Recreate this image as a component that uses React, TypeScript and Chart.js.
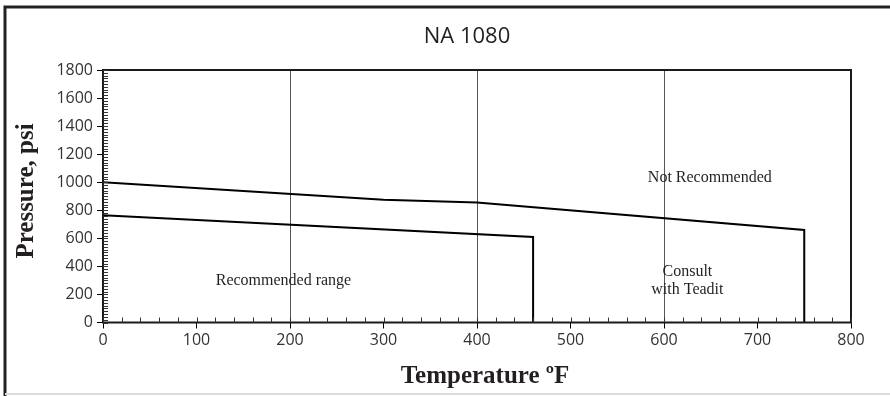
import { useEffect, useRef } from "react";
import { Chart, registerables } from "chart.js";
Chart.register(...registerables);

const chartTitle = "NA 1080";
const xTitle = "Temperature ºF";
const yTitle = "Pressure, psi";

const upperTemp = [0, 300, 400, 750, 750];
const upperPress = [1000, 875, 855, 660, 0];
const lowerTemp = [0, 460, 460];
const lowerPress = [765, 610, 0];

const gridTemps = [200, 400, 600];
const labelTexts = ["Recommended range", "Not Recommended", "Consult", "with Teadit"];
const labelTemps = [193, 649, 625, 625];
const labelPress = [300, 1032, 361, 232];

const X_MIN = 0, X_MAX = 800, X_STEP = 100, X_MINOR = 20;
const Y_MIN = 0, Y_MAX = 1800, Y_STEP = 200, Y_MINOR = 20;

const decorPlugin = {
  id: "decor",
  beforeDraw(chart: any) {
    const ctx = chart.ctx;
    ctx.save();
    ctx.fillStyle = "#fff";
    ctx.fillRect(0, 0, chart.width, chart.height);
    ctx.restore();
  },
  afterDraw(chart: any) {
    const ctx = chart.ctx;
    const a = chart.chartArea;
    const xs = chart.scales.x;
    const ys = chart.scales.y;
    ctx.save();
    // outer frame
    ctx.strokeStyle = "#222";
    ctx.lineWidth = 3;
    ctx.beginPath();
    ctx.moveTo(5, chart.height + 2);
    ctx.lineTo(5, 7);
    ctx.lineTo(chart.width + 2, 7);
    ctx.stroke();
    ctx.strokeStyle = "#ddd";
    ctx.lineWidth = 2;
    ctx.beginPath();
    ctx.moveTo(5, chart.height - 2);
    ctx.lineTo(chart.width, chart.height - 2);
    ctx.stroke();
    // plot frame
    ctx.strokeStyle = "#1a1a1a";
    ctx.lineWidth = 2;
    ctx.strokeRect(a.left, a.top, a.right - a.left, a.bottom - a.top);
    // minor ticks
    ctx.strokeStyle = "#333";
    ctx.lineWidth = 1;
    ctx.beginPath();
    for (let v = Y_MIN; v <= Y_MAX; v += Y_MINOR) {
      const y = Math.round(ys.getPixelForValue(v)) + 0.5;
      ctx.moveTo(a.left, y);
      ctx.lineTo(a.left + 5, y);
    }
    for (let v = X_MIN; v <= X_MAX; v += X_MINOR) {
      const x = Math.round(xs.getPixelForValue(v)) + 0.5;
      ctx.moveTo(x, a.bottom);
      ctx.lineTo(x, a.bottom - 5);
    }
    ctx.stroke();
    // title
    ctx.fillStyle = "#231f20";
    ctx.font = "22px 'Open Sans'";
    ctx.textAlign = "center";
    ctx.textBaseline = "middle";
    ctx.fillText(chartTitle, 467, 37);
    // axis titles
    ctx.font = "bold 25px 'Liberation Serif'";
    ctx.fillText(xTitle, 485, 377);
    ctx.save();
    ctx.translate(27, 191);
    ctx.rotate(-Math.PI / 2);
    ctx.fillText(yTitle, 0, 0);
    ctx.restore();
    // annotations
    ctx.font = "16px 'Liberation Serif'";
    for (let i = 0; i < labelTexts.length; i++) {
      ctx.fillText(labelTexts[i], xs.getPixelForValue(labelTemps[i]), ys.getPixelForValue(labelPress[i]));
    }
    ctx.restore();
  },
};

export default function App() {
  const ref = useRef<HTMLCanvasElement>(null);
  useEffect(() => {
    const canvas = ref.current!;
    const toPts = (xs: number[], ys: number[]) => xs.map((x, i) => ({ x, y: ys[i] }));
    const tickFont = { family: "'Open Sans'", size: 16 };
    const chart = new Chart(canvas, {
      type: "line",
      data: {
        datasets: [
          {
            data: toPts(upperTemp, upperPress),
            borderColor: "#000",
            borderWidth: 2,
            pointRadius: 0,
            tension: 0,
            fill: false,
          },
          {
            data: toPts(lowerTemp, lowerPress),
            borderColor: "#000",
            borderWidth: 2,
            pointRadius: 0,
            tension: 0,
            fill: false,
          },
        ],
      },
      options: {
        responsive: false,
        animation: false,
        events: [],
        layout: { padding: { left: 0, top: 70, right: 39, bottom: 0 } },
        plugins: { legend: { display: false }, title: { display: false }, tooltip: { enabled: false } },
        scales: {
          x: {
            type: "linear",
            min: X_MIN,
            max: X_MAX,
            afterFit: (s: any) => { s.height = 73.5; },
            ticks: {
              stepSize: X_STEP,
              color: "#333",
              font: tickFont,
              padding: 2,
              maxRotation: 0,
              callback: (v: any) => String(v),
            },
            grid: {
              color: (c: any) => (gridTemps.includes(c.tick?.value) ? "#555" : "rgba(0,0,0,0)"),
              lineWidth: 1,
              drawTicks: true,
              tickLength: 6,
              tickColor: "#000",
              tickWidth: 1,
            },
            border: { display: false },
          },
          y: {
            type: "linear",
            min: Y_MIN,
            max: Y_MAX,
            afterFit: (s: any) => { s.width = 103; },
            ticks: {
              stepSize: Y_STEP,
              color: "#333",
              font: tickFont,
              padding: 4,
              callback: (v: any) => String(v),
            },
            grid: {
              drawOnChartArea: false,
              drawTicks: true,
              tickLength: 6,
              tickColor: "#000",
              tickWidth: 1,
            },
            border: { display: false },
          },
        },
      },
      plugins: [decorPlugin],
    });
    return () => chart.destroy();
  }, []);
  return (
    <div style={{ position: "fixed", left: 0, top: 0, width: 890, height: 396 }}>
      <canvas ref={ref} width={890} height={396} style={{ display: "block" }} />
    </div>
  );
}
